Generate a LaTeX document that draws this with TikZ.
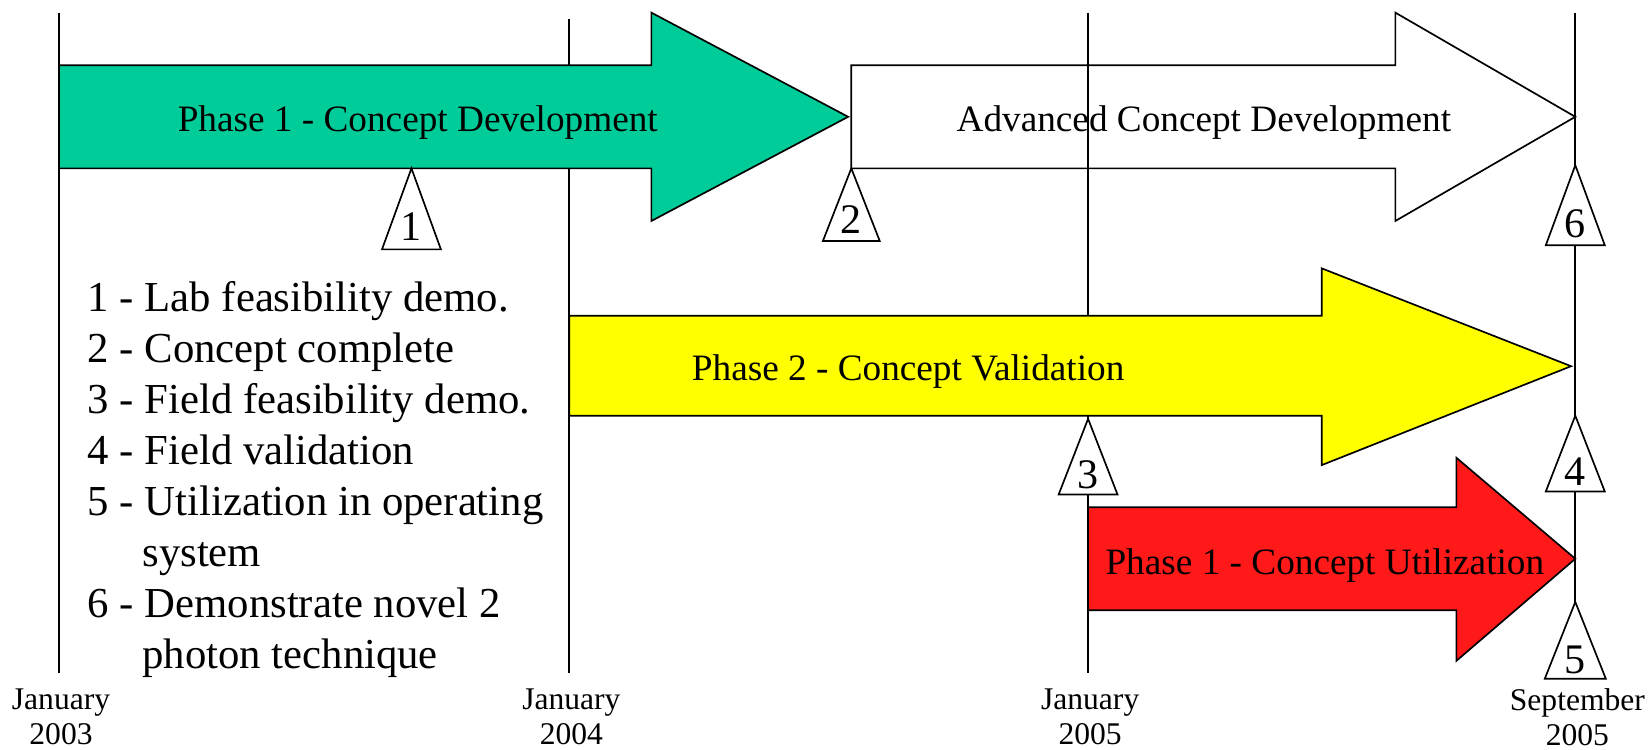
\documentclass[tikz,border=0pt]{standalone}
\usepackage{fontspec}
\setmainfont{Liberation Serif}
\definecolor{pgreen}{RGB}{0,204,153}
\definecolor{pyellow}{RGB}{255,255,0}
\definecolor{pred}{RGB}{255,25,25}
\tikzset{
  vline/.style={draw=black, line width=0.8pt},
  arrowshape/.style={draw=black, line width=0.8pt, line join=miter},
  arrlabel/.style={inner sep=0pt, font=\fontsize{17.7}{20}\selectfont},
  tri/.style={draw=black, fill=white, line width=0.8pt, line join=miter},
  trinum/.style={inner sep=0pt, anchor=base, font=\fontsize{20}{22}\selectfont},
  legend/.style={inner sep=0pt, anchor=base west, font=\fontsize{20.3}{24}\selectfont},
  datelbl/.style={inner sep=0pt, align=center, anchor=north, font=\fontsize{15}{16.5}\selectfont}
}
\begin{document}
\begin{tikzpicture}[x=0.5pt,y=-0.5pt]
\useasboundingbox (0,0) rectangle (1568,712);
% vertical time lines
\coordinate (j3t) at (56,12);   \coordinate (j3b) at (56,640);
\coordinate (j4t) at (541,18);  \coordinate (j4b) at (541,640);
\coordinate (j5t) at (1034,12); \coordinate (j5b) at (1034,640);
\coordinate (s5t) at (1497,12); \coordinate (s5b) at (1497,640);
\draw[vline] (j3t) -- (j3b);
\draw[vline] (j4t) -- (j4b);
\draw[vline] (j5t) -- (j5b);
\draw[vline] (s5t) -- (s5b);
% green arrow
\draw[arrowshape, fill=pgreen] (56,62) -- (619,62) -- (619,12) -- (806,111) -- (619,210) -- (619,160) -- (56,160) -- cycle;
\node[arrlabel] (p1) at (397,116) {Phase 1 - Concept Development};
% white (outlined) arrow
\draw[arrowshape] (809,62) -- (1326,62) -- (1326,12) -- (1497,111) -- (1326,210) -- (1326,160) -- (809,160) -- cycle;
\node[arrlabel] (acd) at (1144,116) {Advanced Concept Development};
% yellow arrow
\draw[arrowshape, fill=pyellow] (541,300) -- (1256,300) -- (1256,255) -- (1493,348) -- (1256,442) -- (1256,395) -- (541,395) -- cycle;
\node[arrlabel] (p2) at (863,353) {Phase 2 - Concept Validation};
% red arrow
\draw[arrowshape, fill=pred] (1034,482) -- (1384,482) -- (1384,435) -- (1497,531) -- (1384,628) -- (1384,580) -- (1034,580) -- cycle;
\node[arrlabel] (pu) at (1259,537) {Phase 1 - Concept Utilization};
% milestone triangles
\draw[tri] (391,160) -- (419,237) -- (363,237) -- cycle;
\node[trinum] (m1) at (391,229) {1};
\draw[tri] (809,160) -- (836,229) -- (782,229) -- cycle;
\node[trinum] (m2) at (809,222) {2};
\draw[tri] (1497,157) -- (1525,233) -- (1469,233) -- cycle;
\node[trinum] (m6) at (1497,226) {6};
\draw[tri] (1034,398) -- (1062,470) -- (1006,470) -- cycle;
\node[trinum] (m3) at (1034,464) {3};
\draw[tri] (1497,395) -- (1525,467) -- (1469,467) -- cycle;
\node[trinum] (m4) at (1497,461) {4};
\draw[tri] (1497,572) -- (1526,645) -- (1468,645) -- cycle;
\node[trinum] (m5) at (1497,640) {5};
% legend
\node[legend] (l1) at (83,296) {1 - Lab feasibility demo.};
\node[legend] (l2) at (83,344.5) {2 - Concept complete};
\node[legend] (l3) at (83,393) {3 - Field feasibility demo.};
\node[legend] (l4) at (83,441.5) {4 - Field validation};
\node[legend] (l5) at (83,490) {5 - Utilization in operating};
\node[legend] (l5b) at (135,538.5) {system};
\node[legend] (l6) at (83,587) {6 - Demonstrate novel 2};
\node[legend] (l6b) at (135,635.5) {photon technique};
% date labels
\node[datelbl] (d1) at (58,654) {January\\2003};
\node[datelbl] (d2) at (543,654) {January\\2004};
\node[datelbl] (d3) at (1036,654) {January\\2005};
\node[datelbl] (d4) at (1499,654) {September\\2005};
\end{tikzpicture}
\end{document}
